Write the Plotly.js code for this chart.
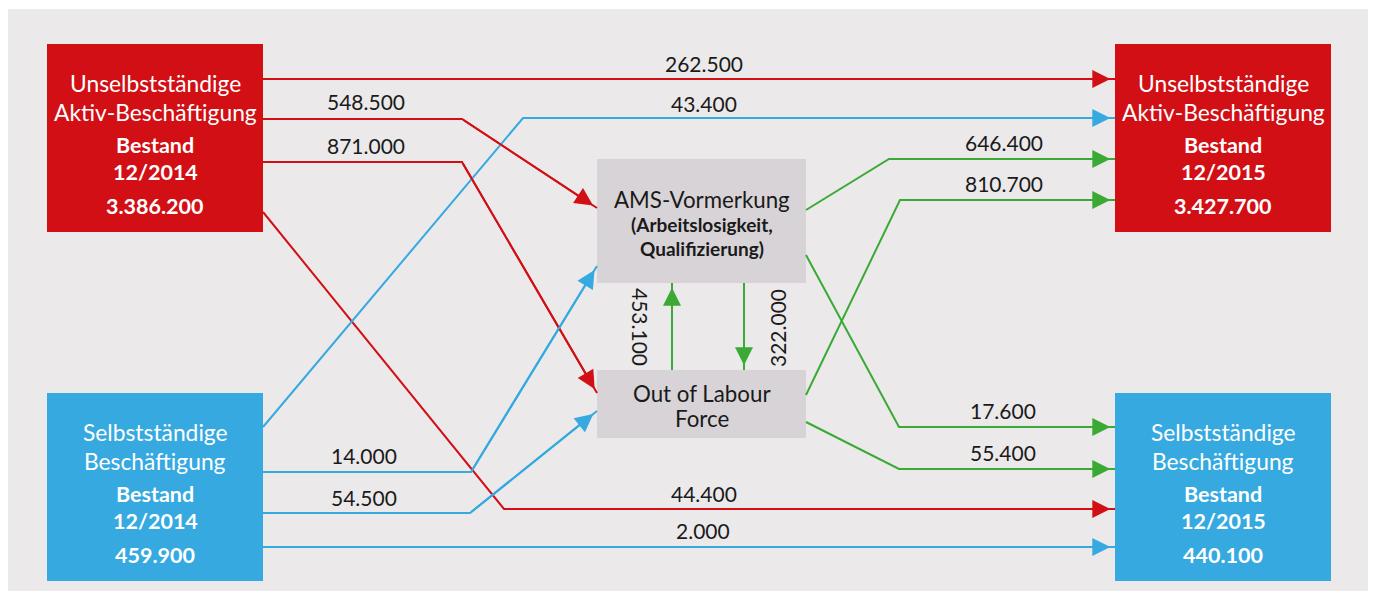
<!DOCTYPE html>
<html>
<head>
<meta charset="utf-8">
<script src="https://cdn.plot.ly/plotly-3.0.1.min.js"></script>
<style>html,body{margin:0;padding:0;background:#fff;}#chart{width:1375px;height:592px;}</style>
</head>
<body>
<div id="chart"></div>
<script>
// ---- data ----
const nodeTitles = [
  ['Unselbstständige', 'Aktiv-Beschäftigung'],
  ['Unselbstständige', 'Aktiv-Beschäftigung'],
  ['Selbstständige', 'Beschäftigung'],
  ['Selbstständige', 'Beschäftigung']
];
const nodePeriods = ['12/2014', '12/2015', '12/2014', '12/2015'];
const nodeStocks = ['3.386.200', '3.427.700', '459.900', '440.100'];
const nodeColors = ['#d20f14', '#d20f14', '#36a9e1', '#36a9e1'];
const stockLabel = 'Bestand';

const midTitles = [['AMS-Vormerkung'], ['Out of Labour', 'Force']];
const midSubtitle = ['(Arbeitslosigkeit,', 'Qualifizierung)'];

const flowValues = ['262.500', '548.500', '871.000', '44.400',
                    '43.400', '14.000', '54.500', '2.000',
                    '646.400', '810.700', '17.600', '55.400',
                    '453.100', '322.000'];
const flowColors = ['#d20f14', '#d20f14', '#d20f14', '#d20f14',
                    '#36a9e1', '#36a9e1', '#36a9e1', '#36a9e1',
                    '#3aaa35', '#3aaa35', '#3aaa35', '#3aaa35',
                    '#3aaa35', '#3aaa35'];

// ---- layout geometry (pixels, y downward) ----
const nodeBoxX = [[47, 263], [1115, 1331], [47, 263], [1115, 1331]];
const nodeBoxY = [[44, 232], [44, 232], [393, 581], [393, 581]];
const midBoxX = [[597, 806], [597, 806]];
const midBoxY = [[159, 283], [370, 438]];

const flowPathX = [
  [263, 1115], [263, 462, 597], [263, 462, 597], [263, 504, 1115],
  [263, 523, 1115], [263, 471, 597], [263, 470, 597], [263, 1115],
  [806, 889, 1115], [806, 900, 1115], [806, 899, 1115], [806, 899, 1115],
  [672, 672], [744, 744]
];
const flowPathY = [
  [79, 79], [119, 119, 208], [162, 162, 393], [212, 509, 509],
  [427, 118, 118], [472, 472, 266], [513, 513, 411], [547, 547],
  [210, 159, 159], [395, 200, 200], [255, 427, 427], [422, 469, 469],
  [370, 283], [283, 370]
];
const flowLabelX = [704, 366, 366, 704, 704, 364, 364, 703, 1004, 1004, 1003, 1003, 641, 777];
const flowLabelY = [63, 101, 145, 493, 103, 455, 497, 530, 142, 183, 410, 452, 327, 328];
const flowLabelAngle = [0, 0, 0, 0, 0, 0, 0, 0, 0, 0, 0, 0, 90, -90];

const FONT = 'Lato, "Noto Sans", sans-serif';

const traces = [];
const shapes = [];
const annotations = [];

// background
shapes.push({type: 'rect', xref: 'x', yref: 'y', x0: 8, x1: 1368, y0: 9, y1: 591,
  fillcolor: '#ebe9ea', line: {width: 0}, layer: 'below'});

// node boxes
nodeTitles.forEach((t, i) => {
  const [x0, x1] = nodeBoxX[i];
  const [y0, y1] = nodeBoxY[i];
  shapes.push({type: 'rect', xref: 'x', yref: 'y', x0, x1, y0, y1,
    fillcolor: nodeColors[i], line: {width: 0}, layer: 'below'});
  const cx = (x0 + x1) / 2;
  const lines = [
    {t: t[0], dy: 39, b: false, s: 22.8},
    {t: t[1], dy: 68, b: false, s: 22.8},
    {t: stockLabel, dy: 101, b: true, s: 21.5},
    {t: nodePeriods[i], dy: 128, b: true, s: 21.5},
    {t: nodeStocks[i], dy: 162, b: true, s: 21.5}
  ];
  lines.forEach(l => {
    annotations.push({x: cx, y: y0 + l.dy, xref: 'x', yref: 'y', showarrow: false,
      text: l.b ? '<b>' + l.t + '</b>' : l.t,
      font: {family: FONT, size: l.s, color: '#ffffff'}, xanchor: 'center', yanchor: 'middle'});
  });
});

// middle boxes
midTitles.forEach((t, i) => {
  const [x0, x1] = midBoxX[i];
  const [y0, y1] = midBoxY[i];
  shapes.push({type: 'rect', xref: 'x', yref: 'y', x0, x1, y0, y1,
    fillcolor: '#d7d3d6', line: {width: 0}, layer: 'below'});
  const cx = (x0 + x1) / 2;
  if (i === 0) {
    annotations.push({x: cx, y: 199, xref: 'x', yref: 'y', showarrow: false, text: t[0],
      font: {family: FONT, size: 22.3, color: '#1a1a1a'}});
    annotations.push({x: cx, y: 224, xref: 'x', yref: 'y', showarrow: false, text: '<b>' + midSubtitle[0] + '</b>',
      font: {family: FONT, size: 19, color: '#1a1a1a'}});
    annotations.push({x: cx, y: 248, xref: 'x', yref: 'y', showarrow: false, text: '<b>' + midSubtitle[1] + '</b>',
      font: {family: FONT, size: 19, color: '#1a1a1a'}});
  } else {
    annotations.push({x: cx, y: 393, xref: 'x', yref: 'y', showarrow: false, text: t[0],
      font: {family: FONT, size: 22.3, color: '#1a1a1a'}});
    annotations.push({x: cx, y: 418, xref: 'x', yref: 'y', showarrow: false, text: t[1],
      font: {family: FONT, size: 22.3, color: '#1a1a1a'}});
  }
});

// flows
flowValues.forEach((v, i) => {
  const xs = flowPathX[i], ys = flowPathY[i];
  traces.push({type: 'scatter', mode: 'lines', x: xs, y: ys,
    line: {color: flowColors[i], width: 2}, hoverinfo: 'skip', showlegend: false});
  const n = xs.length;
  annotations.push({x: xs[n - 1], y: ys[n - 1], ax: xs[n - 2], ay: ys[n - 2],
    xref: 'x', yref: 'y', axref: 'x', ayref: 'y', text: '', showarrow: true,
    arrowhead: 2, arrowsize: 1.8, arrowwidth: 2, arrowcolor: flowColors[i], standoff: 4.7});
  annotations.push({x: flowLabelX[i], y: flowLabelY[i], xref: 'x', yref: 'y', showarrow: false,
    text: v, textangle: flowLabelAngle[i],
    font: {family: FONT, size: 21, color: '#1a1a1a'}});
});

const layout = {
  width: 1375, height: 592,
  margin: {l: 0, r: 0, t: 0, b: 0},
  paper_bgcolor: '#ffffff', plot_bgcolor: 'rgba(0,0,0,0)',
  xaxis: {range: [0, 1375], visible: false, fixedrange: true},
  yaxis: {range: [592, 0], visible: false, fixedrange: true},
  shapes, annotations, showlegend: false
};

Plotly.newPlot('chart', traces, layout, {staticPlot: true, displayModeBar: false});
</script>
</body>
</html>
